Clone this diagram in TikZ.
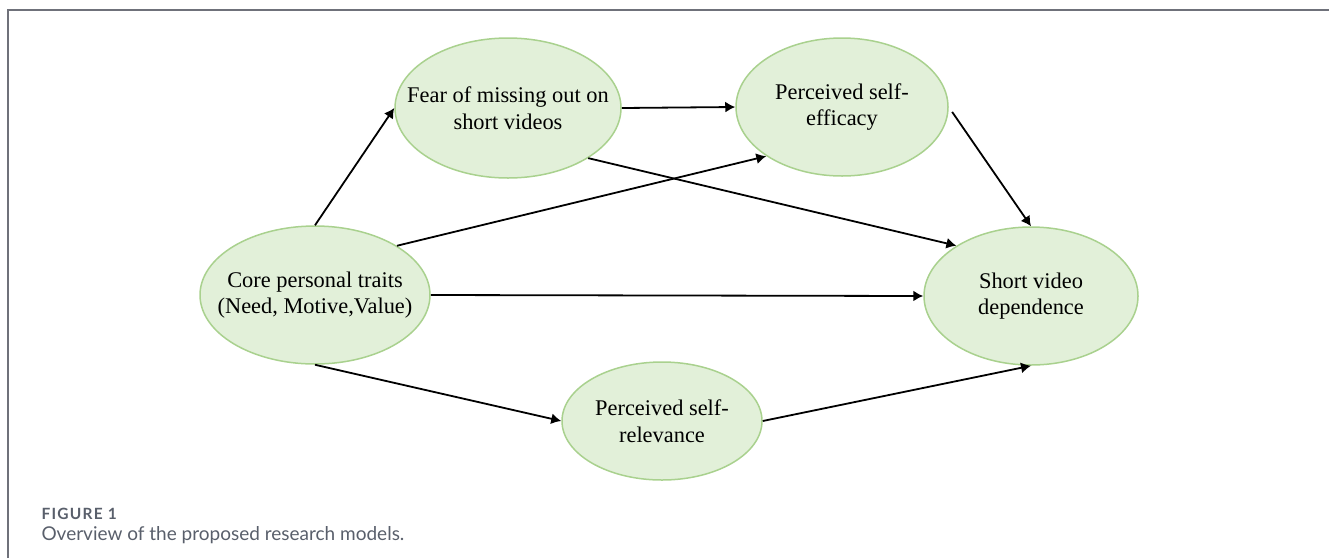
\documentclass[tikz,border=0pt]{standalone}
\usepackage{fontspec}
\setmainfont{Liberation Serif}
\newfontfamily\capfont{Lato}
\usetikzlibrary{arrows.meta, positioning, shapes.geometric}
\definecolor{nodefill}{HTML}{E2F0D9}
\definecolor{nodeline}{HTML}{A9D18E}
\definecolor{framegray}{HTML}{6F717A}
\definecolor{capgray}{HTML}{595F6B}

\begin{document}
\begin{tikzpicture}[
  x=1pt, y=-1pt,
  >={Latex[length=10pt, width=11pt]},
  font=\fontsize{22.4}{26.5}\selectfont,
  trait/.style={
    ellipse, draw=nodeline, fill=nodefill,
    line width=1.5pt, align=center,
    inner xsep=-35pt, inner ysep=0pt,
  },
  link/.style={->, line width=1.8pt},
  caption/.style={anchor=base west, text=capgray},
]
\useasboundingbox (0,0) rectangle (1329,558);

% --- Frame ---
\draw[framegray, line width=2pt] (7.5,558) -- (7.5,9.5) -- (1329,9.5);

% --- Constructs ---
\node[trait, minimum width=230, minimum height=138] (core) at (315,295) {Core personal traits\\(Need, Motive,Value)};
\node[trait, minimum width=226, minimum height=140] (fomo) at (508,108) {Fear of missing out on\\short videos};
\node[trait, minimum width=212, minimum height=138] (eff) at (842,107) {Perceived self-\\efficacy};
\node[trait, minimum width=214, minimum height=138] (dep) at (1031,296) {Short video\\dependence};
\node[trait, minimum width=200, minimum height=118] (rel) at (662,421) {Perceived self-\\relevance};

% --- Caption ---
\node[caption, font=\capfont\bfseries\fontsize{15.5}{18}\selectfont\addfontfeatures{LetterSpace=8}] (figno) at (38,519) {FIGURE 1};
\node[caption, font=\capfont\fontsize{19}{22}\selectfont] (figcap) at (38,540) {Overview of the proposed research models.};

% --- Arrows ---
\draw[link] (core.north) -- (fomo.west);
\draw[link] (fomo.east) -- (eff.west);
\draw[link] (fomo.-32) -- (dep.146);
\draw[link] (core.31) -- (eff.-147);
\draw[link] (core.east) -- (dep.west);
\draw[link, shorten <=6pt] (eff.east) -- (dep.north);
\draw[link] (core.south) -- (rel.west);
\draw[link] (rel.east) -- (dep.south);

\end{tikzpicture}
\end{document}
